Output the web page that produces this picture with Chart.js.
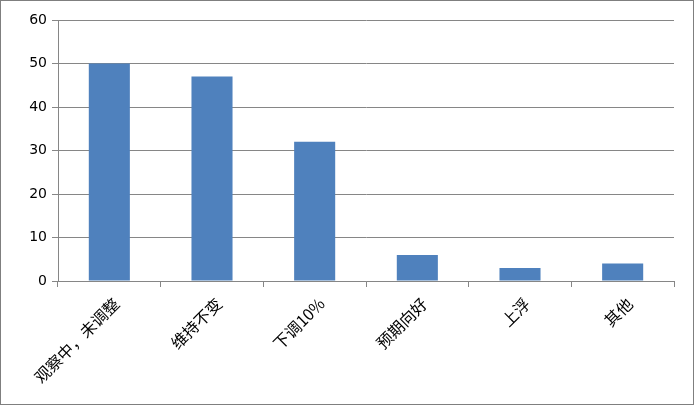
<!DOCTYPE html>
<html><head><meta charset="utf-8">
<script src="https://cdn.jsdelivr.net/npm/chart.js@4"></script>
<style>
html,body{margin:0;padding:0;background:#fff;}
#wrap{width:694px;height:405px;box-sizing:border-box;border:1px solid #7f7f7f;position:relative;background:#fff;}
canvas{display:block;}
</style></head>
<body>
<div id="wrap"><canvas id="c" width="692" height="403"></canvas></div>
<script>
const categories = ["观察中，未调整","维持不变","下调10%","预期向好","上浮","其他"];
const values = [50, 47, 32, 6, 3, 4];
const yTicks = [0, 10, 20, 30, 40, 50, 60];

new Chart(document.getElementById('c'), {
  type: 'bar',
  data: {
    labels: categories,
    datasets: [{
      data: values,
      backgroundColor: '#4F81BD',
      borderWidth: 0,
      barPercentage: 0.4,
      categoryPercentage: 1.0
    }]
  },
  options: {
    responsive: false,
    animation: false,
    devicePixelRatio: 1,
    layout: { padding: { top: 19, right: 19, left: 0, bottom: 0 } },
    plugins: { legend: { display: false }, tooltip: { enabled: false } },
    scales: {
      x: {
        offset: true,
        grid: { display: true, drawOnChartArea: false, drawTicks: true, tickLength: 6, color: '#868686', offset: true },
        border: { display: true, color: '#868686', width: 1 },
        ticks: {
          minRotation: 45, maxRotation: 45, autoSkip: false,
          padding: 7, labelOffset: 7,
          color: '#000',
          font: { family: '"Noto Sans CJK SC", "DejaVu Sans", sans-serif', size: 16 }
        },
        afterFit: s => { s.height = 123; }
      },
      y: {
        min: 0, max: 60,
        afterBuildTicks: s => { s.ticks = yTicks.map(v => ({ value: v })); },
        grid: { color: '#868686', lineWidth: 1, drawTicks: true, tickLength: 6 },
        border: { display: true, color: '#868686', width: 1 },
        ticks: {
          padding: 5,
          color: '#000',
          font: { family: '"DejaVu Sans", sans-serif', size: 14 }
        },
        afterFit: s => { s.width = 57; }
      }
    }
  }
});
</script>
</body></html>
